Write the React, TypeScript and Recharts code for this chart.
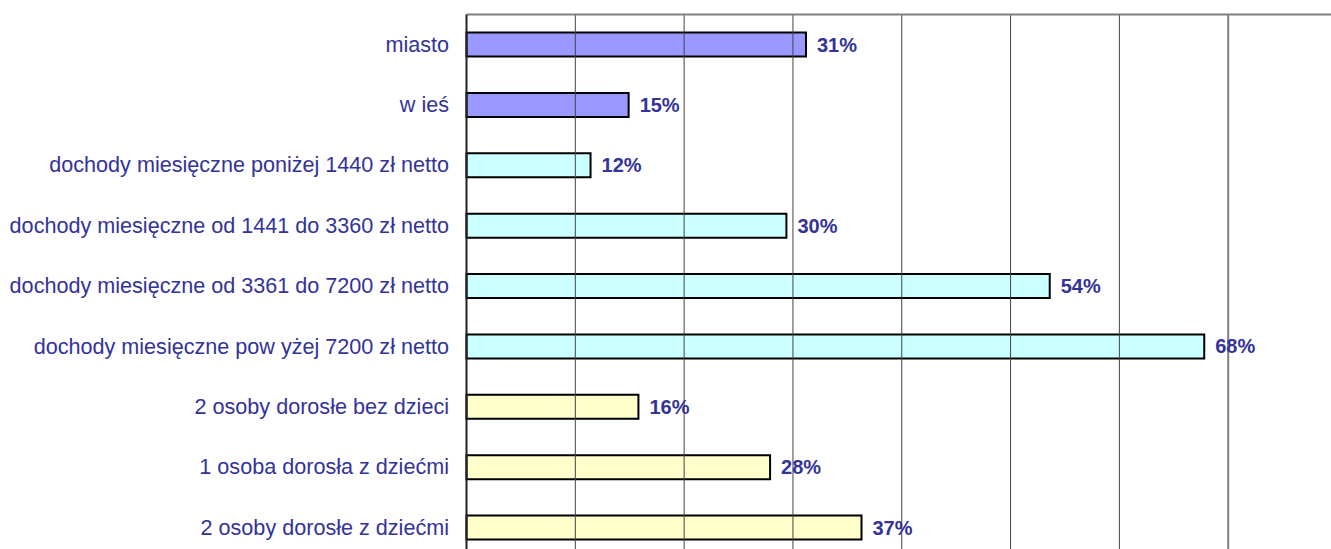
import { BarChart, Bar, XAxis, YAxis, Cell, LabelList, ReferenceLine } from "recharts";

const categories = [
  "miasto",
  "w ieś",
  "dochody miesięczne poniżej 1440 zł netto",
  "dochody miesięczne od 1441 do 3360 zł netto",
  "dochody miesięczne od 3361 do 7200 zł netto",
  "dochody miesięczne pow yżej 7200 zł netto",
  "2 osoby dorosłe bez dzieci",
  "1 osoba dorosła z dziećmi",
  "2 osoby dorosłe z dziećmi",
];

// bar lengths (percent)
const values = [31.2, 14.9, 11.4, 29.4, 53.6, 67.8, 15.8, 27.9, 36.3];

// value labels as printed next to the bars
const valueLabels = ["31%", "15%", "12%", "30%", "54%", "68%", "16%", "28%", "37%"];

const barColors = ["#9999FF", "#9999FF", "#CCFFFF", "#CCFFFF", "#CCFFFF", "#CCFFFF", "#FFFFCC", "#FFFFCC", "#FFFFCC"];

const xTicks = [10, 20, 30, 40, 50, 60, 70, 80];

const data = categories.map((name, i) => ({ name, value: values[i], label: valueLabels[i] }));

const FONT = '"Liberation Sans", Arial, sans-serif';
const TEXT = "#333399";

function CategoryTick(props: any) {
  const { x, y, payload } = props;
  return (
    <text x={x} y={y + 7} textAnchor="end" fill={TEXT} fontSize={21.6} fontFamily={FONT}>
      {payload.value}
    </text>
  );
}

function ValueLabel(props: any) {
  const { x, y, width, height, index } = props;
  return (
    <text
      x={x + width + 11}
      y={y + height / 2 + 7}
      fill={TEXT}
      fontSize={20}
      fontWeight="bold"
      fontFamily={FONT}
    >
      {valueLabels[index]}
    </text>
  );
}

export default function App() {
  return (
    <div style={{ position: "fixed", left: 0, top: 0, width: 1331, height: 549, overflow: "hidden", background: "#fff" }}>
      <BarChart
        width={1337}
        height={558}
        data={data}
        layout="vertical"
        margin={{ top: 13.5, right: 0, bottom: 0, left: 0 }}
      >
        <XAxis
          type="number"
          orientation="top"
          domain={[0, 80]}
          ticks={xTicks}
          height={1}
          tick={false}
          tickLine={false}
          axisLine={{ stroke: "#808080", strokeWidth: 2 }}
        />
        <YAxis
          type="category"
          dataKey="name"
          width={466.5}
          tickSize={0}
          tickMargin={17.5}
          tickLine={false}
          axisLine={{ stroke: "#222", strokeWidth: 2 }}
          tick={<CategoryTick />}
          interval={0}
        />
        {xTicks.map((t) => (
          <ReferenceLine
            key={t}
            x={t}
            stroke={t === 70 ? "#808080" : "#444"}
            strokeWidth={t === 70 ? 2 : 1}
          />
        ))}
        <Bar dataKey="value" barSize={24} stroke="#000" strokeWidth={2} isAnimationActive={false}>
          {data.map((_, i) => (
            <Cell key={`cell-${i}`} fill={barColors[i]} />
          ))}
          <LabelList dataKey="label" content={<ValueLabel />} />
        </Bar>
      </BarChart>
    </div>
  );
}
